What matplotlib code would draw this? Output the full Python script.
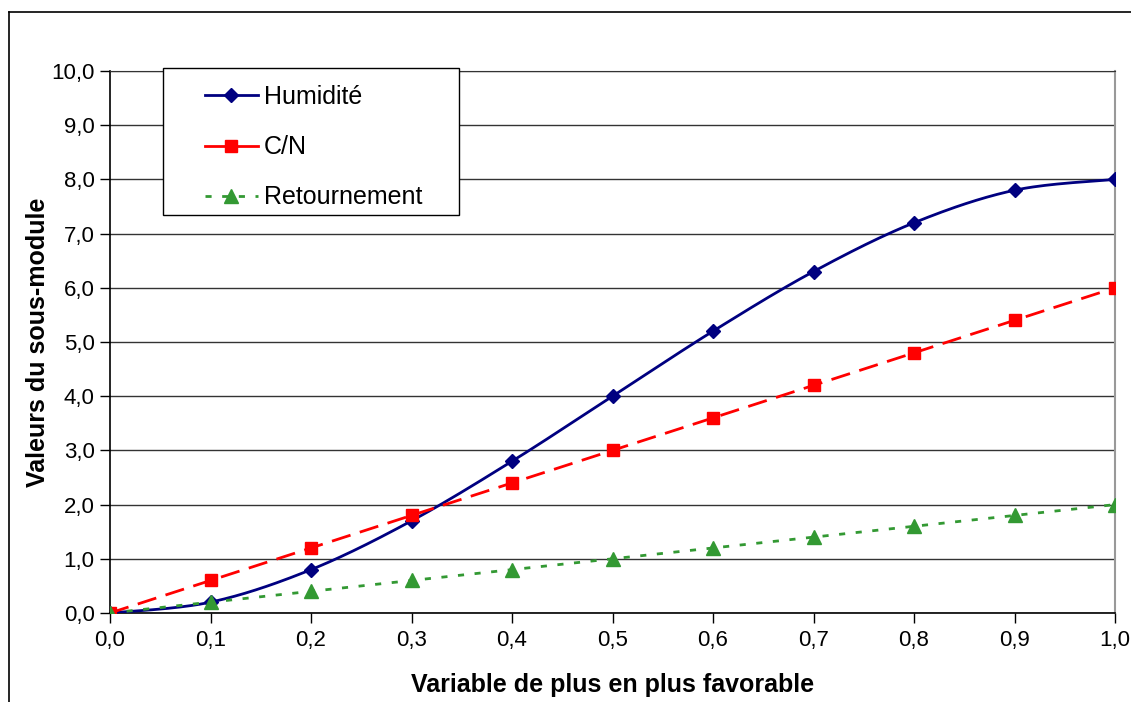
import numpy as np
import matplotlib
matplotlib.use("Agg")
import matplotlib.pyplot as plt
from matplotlib.lines import Line2D
from matplotlib.patches import Rectangle

plt.rcParams['font.family'] = ['Liberation Sans', 'DejaVu Sans']

x_vals = [0.0, 0.1, 0.2, 0.3, 0.4, 0.5, 0.6, 0.7, 0.8, 0.9, 1.0]
humidite = [0.0, 0.2, 0.8, 1.7, 2.8, 4.0, 5.2, 6.3, 7.2, 7.8, 8.0]
cn = [0.0, 0.6, 1.2, 1.8, 2.4, 3.0, 3.6, 4.2, 4.8, 5.4, 6.0]
retournement = [0.0, 0.2, 0.4, 0.6, 0.8, 1.0, 1.2, 1.4, 1.6, 1.8, 2.0]

x_ticks = [0.0, 0.1, 0.2, 0.3, 0.4, 0.5, 0.6, 0.7, 0.8, 0.9, 1.0]
y_ticks = [0, 1, 2, 3, 4, 5, 6, 7, 8, 9, 10]


def smooth(xs, ys, n=30):
    # Excel-like smoothed line (cubic Bezier through the points)
    p = np.column_stack([xs, ys]).astype(float)
    pts = np.vstack([p[0], p, p[-1]])
    out = []
    t = np.linspace(0, 1, n)[:, None]
    for i in range(1, len(pts) - 2):
        p0, p1, p2, p3 = pts[i - 1], pts[i], pts[i + 1], pts[i + 2]
        c1 = p1 + (p2 - p0) / 6
        c2 = p2 - (p3 - p1) / 6
        seg = ((1 - t) ** 3) * p1 + 3 * ((1 - t) ** 2) * t * c1 + 3 * (1 - t) * t ** 2 * c2 + t ** 3 * p2
        out.append(seg)
    out = np.vstack(out)
    return out[:, 0], out[:, 1]


W, H = 1131, 702
fig = plt.figure(figsize=(W / 100, H / 100), dpi=100)
ax = fig.add_axes([110 / W, 1 - 613 / H, 1005 / W, 542 / H])

# outer chart frame (top and left edges visible)
fig.add_artist(Line2D([9 / W, 1.0], [1 - 12 / H, 1 - 12 / H], color='black', lw=1.2))
fig.add_artist(Line2D([9 / W, 9 / W], [0, 1 - 12 / H], color='black', lw=1.2))

navy = '#000080'
red = '#ff0000'
green = '#339933'
green_dash = (2.2, 3.8)

sx, sy = smooth(x_vals, humidite)
ax.plot(sx, sy, color=navy, lw=2, zorder=3)
ax.plot(x_vals, humidite, ls='none', marker='D', ms=7.5, color=navy, zorder=4)

ax.plot(x_vals, cn, color=red, lw=2, dashes=(7, 3.5), zorder=3)
ax.plot(x_vals, cn, ls='none', marker='s', ms=9, color=red, zorder=4)

ax.plot(x_vals, retournement, color=green, lw=2, dashes=green_dash, zorder=3)
ax.plot(x_vals, retournement, ls='none', marker='^', ms=10, color=green, zorder=4)

ax.set_xlim(0, 1)
ax.set_ylim(0, 10)
ax.set_xticks(x_ticks)
ax.set_xticklabels([f"{v:.1f}".replace('.', ',') for v in x_ticks])
ax.set_yticks(y_ticks)
ax.set_yticklabels([f"{v:.1f}".replace('.', ',') for v in y_ticks])
ax.tick_params(axis='both', labelsize=16, direction='out', length=7, width=1, color='black')
ax.tick_params(axis='x', pad=5)
ax.tick_params(axis='y', pad=4)

ax.grid(axis='y', color='#333333', lw=1)
ax.set_axisbelow(True)
for s in ['left', 'bottom']:
    ax.spines[s].set_color('black')
    ax.spines[s].set_linewidth(1.2)
ax.spines['top'].set_color('#333333')
ax.spines['right'].set_color('#999999')
ax.spines['right'].set_linewidth(1.5)

ax.set_xlabel('Variable de plus en plus favorable', fontsize=18, fontweight='bold', labelpad=16)
ax.set_ylabel('Valeurs du sous-module', fontsize=18, fontweight='bold', labelpad=1)

# legend frame drawn separately so its padding can match the reference
frame = Rectangle((163 / W, 1 - 215 / H), 296 / W, 147 / H, transform=fig.transFigure,
                  facecolor='white', edgecolor='black', lw=1, zorder=5, clip_on=False)
ax.add_patch(frame)

handles = [
    Line2D([], [], color=navy, lw=2, marker='D', ms=7.5),
    Line2D([], [], color=red, lw=2, marker='s', ms=9),
    Line2D([], [], color=green, lw=2, dashes=green_dash, marker='^', ms=10),
]
leg = ax.legend(handles, ['Humidité', 'C/N', 'Retournement'], loc='upper left',
                bbox_to_anchor=(205 / W, 1 - 85 / H), bbox_transform=fig.transFigure,
                fontsize=18, frameon=False, handlelength=2.1, handletextpad=0.25,
                labelspacing=1.05, borderpad=0, borderaxespad=0)
leg.set_zorder(6)

fig.savefig('out.png', dpi=100)
